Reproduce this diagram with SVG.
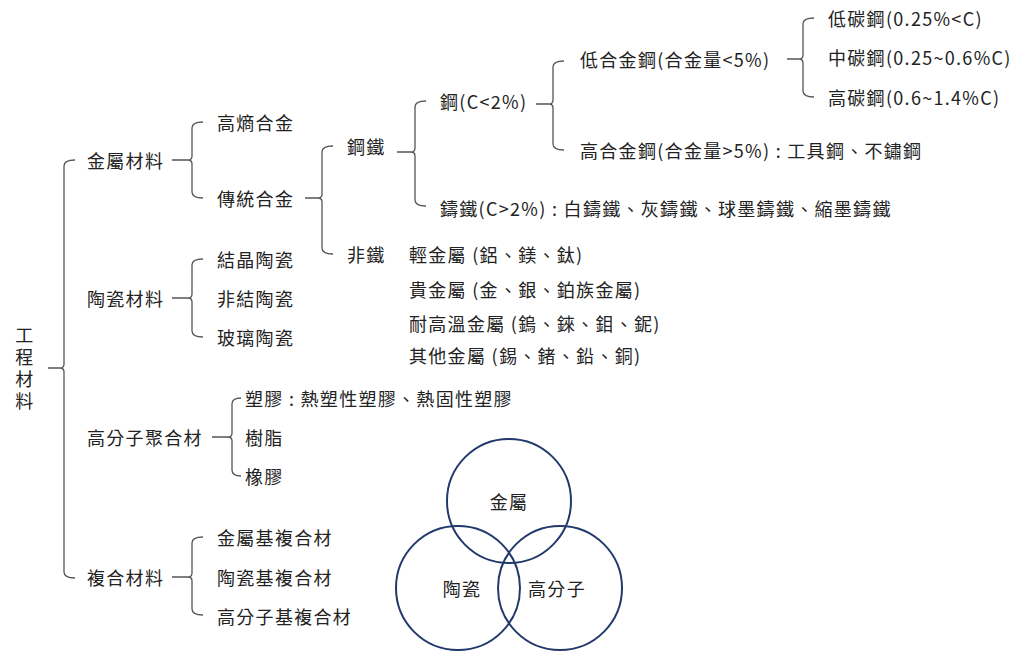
<svg xmlns="http://www.w3.org/2000/svg" width="1024" height="651" viewBox="0 0 1024 651">
<style>
text{font-family:"Noto Sans CJK TC","Noto Sans",sans-serif;font-size:18px;letter-spacing:1.3px;fill:#222;dominant-baseline:central}
.b{fill:none;stroke:#555;stroke-width:1.3}
.c{fill:none;stroke:#213a6b;stroke-width:2}
</style>
<rect width="1024" height="651" fill="#fff"/>
<g id="connectors">
<path class="b" d="M75,160 Q64,160 64,166 L64,364 Q64,368 60,368 L48,368 M60,368 Q64,368 64,372 L64,572 Q64,578 75,578"/>
<path class="b" d="M203,122 Q192,122 192,128 L192,156 Q192,160 188,160 L172,160 M188,160 Q192,160 192,164 L192,192 Q192,198 203,198"/>
<path class="b" d="M203,259 Q192,259 192,265 L192,294 Q192,298 188,298 L172,298 M188,298 Q192,298 192,302 L192,331 Q192,337 203,337"/>
<path class="b" d="M241,398 Q232,398 232,404 L232,433 Q232,437 228,437 L212,437 M228,437 Q232,437 232,441 L232,470 Q232,476 241,476"/>
<path class="b" d="M203,537 Q192,537 192,543 L192,573 Q192,577 188,577 L172,577 M188,577 Q192,577 192,581 L192,609 Q192,615 203,615"/>
<path class="b" d="M333,146 Q322,146 322,152 L322,194 Q322,198 318,198 L305,198 M318,198 Q322,198 322,202 L322,248 Q322,254 333,254"/>
<path class="b" d="M426,101 Q415,101 415,107 L415,148 Q415,152 411,152 L397,152 M411,152 Q415,152 415,156 L415,200 Q415,206 426,206"/>
<path class="b" d="M564,61 Q553,61 553,67 L553,100 Q553,104 549,104 L536,104 M549,104 Q553,104 553,108 L553,144 Q553,150 564,150"/>
<path class="b" d="M814,18 Q803,18 803,24 L803,55 Q803,59 799,59 L787,59 M799,59 Q803,59 803,63 L803,91 Q803,97 814,97"/>
</g>
<g id="root"><text text-anchor="middle"><tspan x="25" y="334">工</tspan><tspan x="25" y="356">程</tspan><tspan x="25" y="378">材</tspan><tspan x="25" y="400">料</tspan></text></g>
<g id="metal"><text x="87" y="160">金屬材料</text></g>
<g id="ceramic"><text x="87" y="298">陶瓷材料</text></g>
<g id="polymer"><text x="87" y="437">高分子聚合材</text></g>
<g id="composite"><text x="87" y="577">複合材料</text></g>
<g id="hea"><text x="217" y="122">高熵合金</text></g>
<g id="trad"><text x="217" y="198">傳統合金</text></g>
<g id="c1"><text x="217" y="259">結晶陶瓷</text></g>
<g id="c2"><text x="217" y="298">非結陶瓷</text></g>
<g id="c3"><text x="217" y="337">玻璃陶瓷</text></g>
<g id="p1"><text x="245" y="398">塑膠 : 熱塑性塑膠、熱固性塑膠</text></g>
<g id="p2"><text x="245" y="437">樹脂</text></g>
<g id="p3"><text x="245" y="476">橡膠</text></g>
<g id="m1"><text x="217" y="537">金屬基複合材</text></g>
<g id="m2"><text x="217" y="577">陶瓷基複合材</text></g>
<g id="m3"><text x="217" y="616">高分子基複合材</text></g>
<g id="ironsteel"><text x="347" y="146">鋼鐵</text></g>
<g id="nonferrous"><text x="347" y="254">非鐵</text></g>
<g id="nf1"><text x="409" y="254">輕金屬 (鋁、鎂、鈦)</text></g>
<g id="nf2"><text x="409" y="289">貴金屬 (金、銀、鉑族金屬)</text></g>
<g id="nf3"><text x="409" y="323">耐高溫金屬 (鎢、錸、鉬、鈮)</text></g>
<g id="nf4"><text x="409" y="355">其他金屬 (錫、鍺、鉛、銅)</text></g>
<g id="steel"><text x="440" y="101">鋼(C&lt;2%)</text></g>
<g id="castiron"><text x="440" y="208">鑄鐵(C&gt;2%) : 白鑄鐵、灰鑄鐵、球墨鑄鐵、縮墨鑄鐵</text></g>
<g id="lowalloy"><text x="580" y="59">低合金鋼(合金量&lt;5%)</text></g>
<g id="highalloy"><text x="580" y="150">高合金鋼(合金量&gt;5%) : 工具鋼、不鏽鋼</text></g>
<g id="lc"><text x="828" y="18">低碳鋼(0.25%&lt;C)</text></g>
<g id="mc"><text x="828" y="57">中碳鋼(0.25~0.6%C)</text></g>
<g id="hc"><text x="828" y="97">高碳鋼(0.6~1.4%C)</text></g>
<g id="venn">
<circle class="c" cx="509" cy="501" r="62"/>
<circle class="c" cx="458" cy="588" r="62"/>
<circle class="c" cx="560" cy="588" r="62"/>
<text x="509" y="501" text-anchor="middle">金屬</text>
<text x="462" y="588" text-anchor="middle">陶瓷</text>
<text x="557" y="588" text-anchor="middle">高分子</text>
</g>
</svg>
